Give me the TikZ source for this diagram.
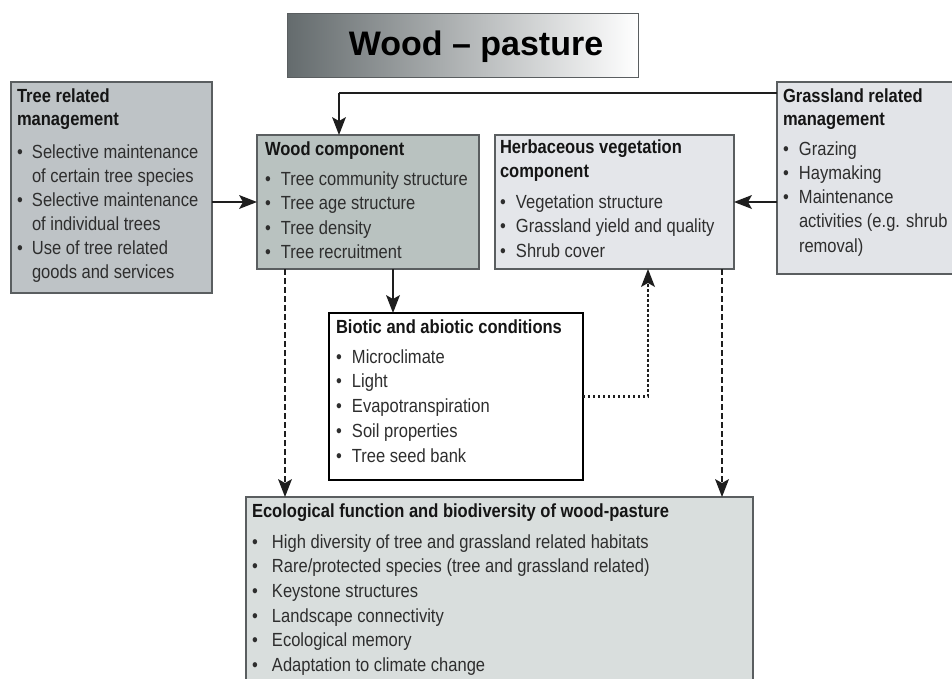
\documentclass[tikz,border=0pt]{standalone}
\usepackage{fontspec}
\setmainfont{Liberation Sans}[FakeStretch=0.87]
\newfontfamily\titlefont{Liberation Sans}
\usetikzlibrary{arrows.meta}
\definecolor{boxline}{HTML}{5A5E60}
\definecolor{treefill}{HTML}{BEC3C6}
\definecolor{woodfill}{HTML}{B9C2C0}
\definecolor{herbfill}{HTML}{E4E6EA}
\definecolor{grassfill}{HTML}{E2E4E8}
\definecolor{ecofill}{HTML}{D9DEDD}
\definecolor{bodytxt}{HTML}{2E2E2E}
\definecolor{headtxt}{HTML}{151515}
\definecolor{titledark}{HTML}{646B6D}
\definecolor{titlemid}{HTML}{C3C7CA}
\definecolor{arrcol}{HTML}{1E1E1E}
\newcommand\bx[2][16pt]{\makebox[#1][l]{\textbullet}#2}
\newcommand\hd[1]{\mbox{\color{headtxt}\bfseries #1}}
\begin{document}
\begin{tikzpicture}[x=1pt,y=-1pt,
  box/.style={draw=boxline, line width=1.4pt, inner sep=0pt, outer sep=0pt, anchor=north west},
  txt/.style={inner sep=0pt, outer sep=0pt, anchor=base west, text=bodytxt},
  solidarr/.style={draw=arrcol, line width=1.5pt, -{Stealth[length=18pt,width=14pt,inset=4pt,line width=0pt]}},
  dasharr/.style={draw=arrcol, line width=2.6pt, dash pattern=on 6pt off 3pt, -{Stealth[length=18pt,width=14pt,inset=4pt,line width=0pt]}},
  dotarr/.style={draw=arrcol, line width=2.6pt, dash pattern=on 2.4pt off 2.6pt, -{Stealth[length=18pt,width=14pt,inset=4pt,line width=0pt]}},
  plainline/.style={draw=arrcol, line width=1.5pt}
]
\useasboundingbox (0,0) rectangle (952,678);
\clip (0,0) rectangle (952,678);
\fill[white] (0,0) rectangle (952,678);

% title
\node[box, draw=boxline, line width=1pt, minimum width=351pt, minimum height=64pt,
  left color=titledark, middle color=titlemid, right color=white] (title) at (287,13) {};
\node[inner sep=0pt, anchor=base, text=black] (titletxt) at (476,55)
  {\titlefont\fontsize{34}{40}\selectfont\bfseries Wood \textendash\ pasture};

% boxes
\node[box, fill=treefill, minimum width=201pt, minimum height=211pt] (tree) at (11,82) {};
\node[box, fill=woodfill, minimum width=222pt, minimum height=134pt] (wood) at (257,135) {};
\node[box, fill=herbfill, minimum width=239pt, minimum height=134pt] (herb) at (495,135) {};
\node[box, fill=grassfill, minimum width=200pt, minimum height=192pt] (grass) at (777,82) {};
\node[box, fill=white, draw=black, line width=1.8pt, minimum width=254pt, minimum height=167pt] (bio) at (329,313) {};
\node[box, fill=ecofill, minimum width=507pt, minimum height=210pt] (eco) at (246,497) {};

% texts
\node[txt] (treetxt) at (17,102) {\parbox[t]{200pt}{\raggedright\fontsize{19}{24}\selectfont\leavevmode
  \hd{Tree related}\\[-1pt]
  \hd{management}\\[9pt]
  \bx[15pt]{Selective maintenance}\\
  \hspace*{15pt}of certain tree species\\
  \bx[15pt]{Selective maintenance}\\
  \hspace*{15pt}of individual trees\\
  \bx[15pt]{Use of tree related}\\
  \hspace*{15pt}goods and services}};

\node[txt] (woodtxt) at (265,155) {\parbox[t]{220pt}{\raggedright\fontsize{19}{24.5}\selectfont\leavevmode
  \hd{Wood component}\\[5.5pt]
  \bx{Tree community structure}\\
  \bx{Tree age structure}\\
  \bx{Tree density}\\
  \bx{Tree recruitment}}};

\node[txt] (herbtxt) at (500,153) {\parbox[t]{240pt}{\raggedright\fontsize{19}{24.5}\selectfont\leavevmode
  \hd{Herbaceous vegetation}\\[-0.5pt]
  \hd{component}\\[6.5pt]
  \bx{Vegetation structure}\\
  \bx{Grassland yield and quality}\\
  \bx{Shrub cover}}};

\node[txt] (grasstxt) at (783,102) {\parbox[t]{200pt}{\raggedright\fontsize{19}{24.3}\selectfont\leavevmode
  \hd{Grassland related}\\[-1.3pt]
  \hd{management}\\[5.7pt]
  \bx{Grazing}\\
  \bx{Haymaking}\\
  \bx{Maintenance}\\
  \hspace*{16pt}activities (e.g. shrub\\
  \hspace*{16pt}removal)}};

\node[txt] (biotxt) at (336,333) {\parbox[t]{250pt}{\raggedright\fontsize{19}{24.8}\selectfont\leavevmode
  \hd{Biotic and abiotic conditions}\\[5.2pt]
  \bx{Microclimate}\\
  \bx{Light}\\
  \bx{Evapotranspiration}\\
  \bx{Soil properties}\\
  \bx{Tree seed bank}}};

\node[txt] (ecotxt) at (252,517) {\parbox[t]{500pt}{\raggedright\fontsize{19}{24.7}\selectfont\leavevmode
  \hd{Ecological function and biodiversity of wood-pasture}\\[6.3pt]
  \bx[20pt]{High diversity of tree and grassland related habitats}\\
  \bx[20pt]{Rare/protected species (tree and grassland related)}\\
  \bx[20pt]{Keystone structures}\\
  \bx[20pt]{Landscape connectivity}\\
  \bx[20pt]{Ecological memory}\\
  \bx[20pt]{Adaptation to climate change}}};

% connectors
\coordinate (j1) at (339,93);
\draw[solidarr] (tree.east |- wood.west) -- (wood.west);
\draw[solidarr] (grass.west |- herb.east) -- (herb.east);
\draw[plainline] (grass.west |- j1) -- (j1);
\draw[solidarr] (j1) -- (wood.north -| j1);
\draw[solidarr] ([xshift=136pt]wood.south west) -- ([xshift=136pt]wood.south west |- bio.north);
\draw[dasharr] ([xshift=28pt]wood.south west) -- ([xshift=28pt]wood.south west |- eco.north);
\draw[dasharr] ([xshift=-12pt]herb.south east) -- ([xshift=-12pt]herb.south east |- eco.north);
\coordinate (c3) at ([xshift=153pt]herb.south west);
\draw[dotarr] (bio.east) -- (bio.east -| c3) -- (c3);
\end{tikzpicture}
\end{document}
